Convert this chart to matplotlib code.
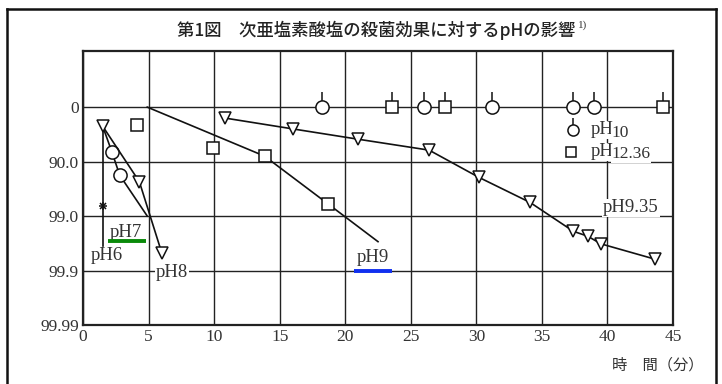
import numpy as np
import matplotlib.pyplot as plt
from matplotlib.lines import Line2D

# log10 of surviving fraction (0 -> 0 %, -1 -> 90.0 % killed, ...)
ph6_x = [1.5, 1.5, 1.5]
ph6_y = [-0.35, -1.82, -2.55]
ph7_x = [1.5, 2.2, 2.8, 4.9]
ph7_y = [-0.35, -0.82, -1.25, -2.0]
ph8_x = [1.5, 4.3, 6.0]
ph8_y = [-0.35, -1.37, -2.67]
ph9_x = [4.9, 13.85, 18.65, 22.5]
ph9_y = [0.0, -0.9, -1.77, -2.47]
sq_extra_x = [4.1, 9.9]
sq_extra_y = [-0.33, -0.75]
ph935_x = [10.8, 16.0, 21.0, 26.4, 30.2, 34.1, 37.4, 38.5, 39.5, 43.6]
ph935_y = [-0.2, -0.4, -0.59, -0.79, -1.29, -1.75, -2.28, -2.37, -2.51, -2.79]
ph10_x = [18.2, 26.0, 31.2, 37.4, 39.0]
ph1236_x = [23.6, 27.6, 44.2]

x_ticks = [0, 5, 10, 15, 20, 25, 30, 35, 40, 45]
y_ticks = [0, -1, -2, -3, -4]
y_labels = ["0", "90.0", "99.0", "99.9", "99.99"]

serif = "Liberation Serif"
cjk = ["Noto Sans CJK JP", "DejaVu Sans"]

fig = plt.figure(figsize=(7.22, 3.84), dpi=100)
ax = fig.add_axes([83 / 722, 1 - 325 / 384, 590 / 722, 274 / 384])
ax.set_xlim(0, 45)
ax.set_ylim(-4, 1.03)

ax.set_xticks(x_ticks)
ax.set_xticklabels([str(t) for t in x_ticks], fontfamily=serif, fontsize=12.5)
ax.set_yticks(y_ticks)
ax.set_yticklabels(y_labels, fontfamily=serif, fontsize=12.5)
ax.tick_params(length=0, pad=3, colors="#333333")
ax.grid(True, color="#222222", lw=1.0)
ax.set_axisbelow(True)
for s in ax.spines.values():
    s.set_linewidth(1.6)
    s.set_color("#222222")

k = dict(color="#111111", lw=1.2, mfc="white", mec="#111111", mew=1.1)
ax.plot(ph6_x, ph6_y, marker="x", ms=5, markevery=[1], **k)
ax.plot(ph6_x[1], ph6_y[1], marker="+", ms=6, color="#111111", mew=1.1)
ax.plot(ph7_x, ph7_y, marker="o", ms=9.5, markevery=[1, 2], **k)
ax.plot(ph8_x, ph8_y, marker="v", ms=9, **k)
ax.plot(ph9_x, ph9_y, marker="s", ms=8.5, markevery=[1, 2], **k)
ax.plot(sq_extra_x, sq_extra_y, ls="none", marker="s", ms=8.5,
        mfc="white", mec="#111111", mew=1.1)
ax.plot(ph935_x, ph935_y, marker="v", ms=9, **k)

# points at 0 with a stem above
ax.vlines(ph10_x + ph1236_x, 0.1, 0.28, color="#111111", lw=1.1)
ax.plot(ph10_x, [0] * len(ph10_x), ls="none", marker="o", ms=9.5,
        mfc="white", mec="#111111", mew=1.1)
ax.plot(ph1236_x, [0] * len(ph1236_x), ls="none", marker="s", ms=8,
        mfc="white", mec="#111111", mew=1.1)

# legend
ax.vlines([37.4], -0.32, -0.2, color="#111111", lw=1.1)
ax.plot([37.4], [-0.42], marker="o", ms=8, mfc="white", mec="#111111", mew=1.1)
ax.plot([37.2], [-0.82], marker="s", ms=7.5, mfc="white", mec="#111111", mew=1.1)
wb = dict(facecolor="white", edgecolor="none", pad=0.5)
ax.text(38.7, -0.42, "pH", fontfamily=serif, fontsize=13.5, va="center",
        color="#333333", bbox=wb)
ax.text(40.3, -0.47, "10", fontfamily=serif, fontsize=12.5, va="center",
        color="#333333", bbox=wb)
ax.text(38.7, -0.82, "pH", fontfamily=serif, fontsize=13.5, va="center",
        color="#333333", bbox=wb)
ax.text(40.3, -0.87, "12.36", fontfamily=serif, fontsize=12.5, va="center",
        color="#333333", bbox=wb)

# curve labels
lab = dict(fontfamily=serif, fontsize=13.5, ha="center", va="center",
           color="#333333", bbox=wb)
ax.text(1.8, -2.73, "pH6", **lab)
ax.text(3.3, -2.3, "pH7", **lab)
ax.text(6.8, -3.03, "pH8", **lab)
ax.text(22.1, -2.77, "pH9", **lab)
ax.text(41.8, -1.85, "pH9.35", **lab)
ax.plot([1.9, 4.8], [-2.46, -2.46], color="#0a8a0a", lw=2.8,
        solid_capstyle="butt", zorder=6)
ax.plot([20.7, 23.6], [-3.0, -3.0], color="#1030f0", lw=2.8,
        solid_capstyle="butt", zorder=6)

t = fig.text(376 / 722, 1 - 30 / 384,
             "第1図　次亜塩素酸塩の殺菌効果に対するpHの影響",
             family=cjk, fontsize=12.5, ha="center", va="center",
             color="#222222", fontweight="medium")
fig.text(0.975, 1 - 365 / 384, "時　間（分）", family=cjk, fontsize=11,
         ha="right", va="center", color="#333333")
ax.annotate("1)", xy=(1, 1), xycoords=t, xytext=(2, 0),
            textcoords="offset points", fontsize=8, fontfamily=serif,
            va="top", color="#333333")

# outer frame
fig.add_artist(Line2D([7 / 722, 7 / 722], [0, 1 - 9 / 384], color="#111111", lw=1.8))
fig.add_artist(Line2D([7 / 722, 716 / 722], [1 - 9 / 384, 1 - 9 / 384],
                      color="#111111", lw=1.8))
fig.add_artist(Line2D([716 / 722, 716 / 722], [0, 1 - 9 / 384], color="#111111", lw=1.8))

fig.savefig("out.png", dpi=100)
